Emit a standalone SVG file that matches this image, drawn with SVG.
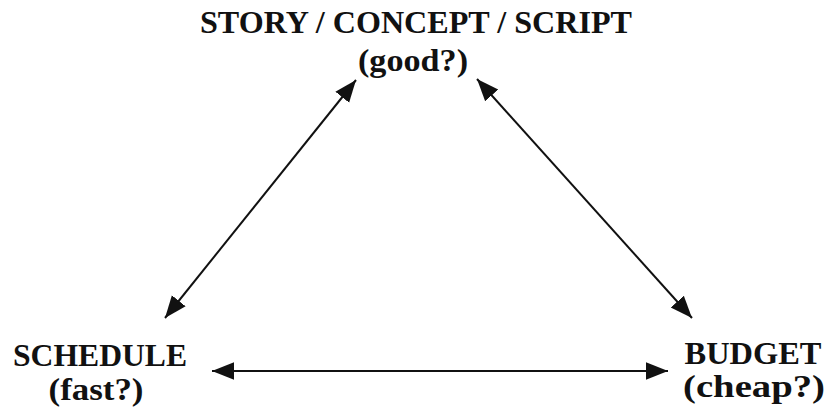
<svg xmlns="http://www.w3.org/2000/svg" width="824" height="412" viewBox="0 0 824 412">
<style>
text{font-family:"Liberation Serif","Times New Roman",serif;font-weight:bold;fill:#111;text-anchor:middle;font-size:31px}
.c{stroke:#111;stroke-width:2;fill:none}
</style>
<defs>
<marker id="ahb" viewBox="0 0 10 10" refX="10" refY="5" markerWidth="22" markerHeight="22" markerUnits="userSpaceOnUse" orient="auto-start-reverse">
<path d="M0,1 L10,5 L0,9 z" fill="#111"/>
</marker>
</defs>
<rect width="824" height="412" fill="#fff"/>
<g id="story">
<text x="416" y="33" textLength="432" lengthAdjust="spacingAndGlyphs">STORY / CONCEPT / SCRIPT</text>
<text x="413" y="71" textLength="110" lengthAdjust="spacingAndGlyphs">(good?)</text>
</g>
<g id="schedule">
<text x="100" y="366" textLength="174" lengthAdjust="spacingAndGlyphs">SCHEDULE</text>
<text x="96" y="400" textLength="95" lengthAdjust="spacingAndGlyphs">(fast?)</text>
</g>
<g id="budget">
<text x="753" y="364" textLength="137" lengthAdjust="spacingAndGlyphs">BUDGET</text>
<text x="754" y="397" textLength="142" lengthAdjust="spacingAndGlyphs">(cheap?)</text>
</g>
<g id="connectors">
<line class="c" x1="356" y1="80" x2="165" y2="318" marker-start="url(#ahb)" marker-end="url(#ahb)"/>
<line class="c" x1="477" y1="79" x2="692" y2="318" marker-start="url(#ahb)" marker-end="url(#ahb)"/>
<line class="c" x1="212" y1="371" x2="668" y2="371" marker-start="url(#ahb)" marker-end="url(#ahb)"/>
</g>
</svg>
